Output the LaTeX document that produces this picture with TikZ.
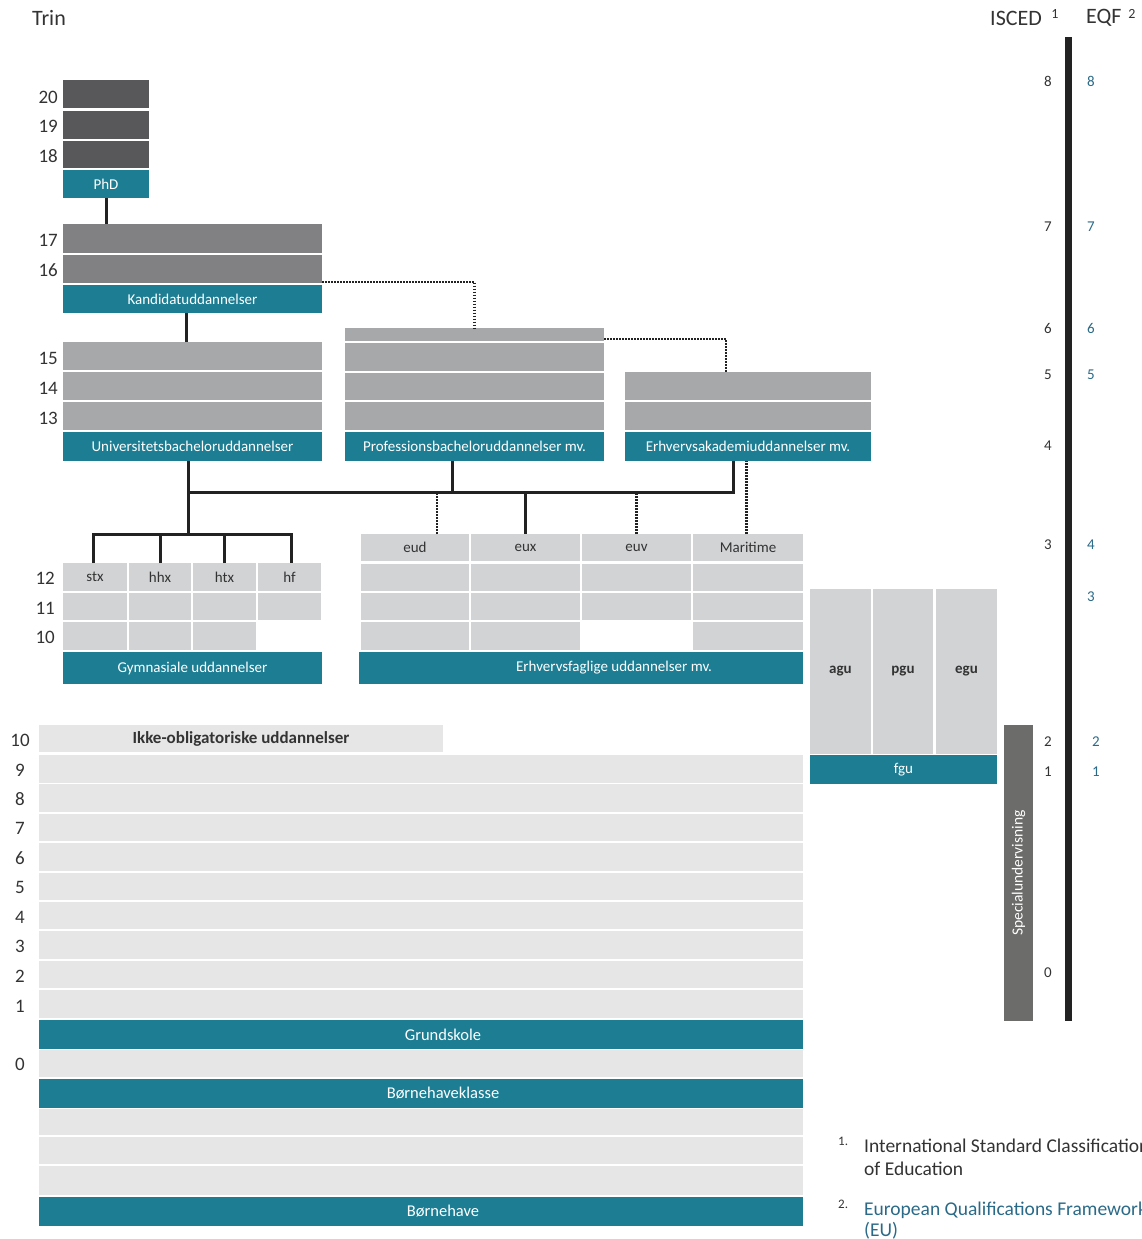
\documentclass[tikz,border=0pt]{standalone}
\usepackage{fontspec}
\setmainfont{Carlito}
\usetikzlibrary{calc}
\definecolor{tealc}{HTML}{1C7D93}
\definecolor{phdg}{HTML}{58585A}
\definecolor{kandg}{HTML}{818183}
\definecolor{bachg}{HTML}{A7A8AA}
\definecolor{cellg}{HTML}{D2D3D5}
\definecolor{baseg}{HTML}{E6E6E7}
\definecolor{speg}{HTML}{6C6C6A}
\definecolor{eqfc}{HTML}{2A6A88}
\definecolor{linec}{HTML}{222222}
\definecolor{txtc}{HTML}{333333}
\newcommand\fsz[1]{\fontsize{#1}{#1}\selectfont}
\newcommand\rbx[7]{%
  \pgfmathsetmacro\rsw{#4-#2}\pgfmathsetmacro\rsh{#5-#3}%
  \node[#6,minimum width=\rsw pt,minimum height=\rsh pt,anchor=north west] (#1) at (#2,#3) {#7};}
\tikzset{
  blk/.style={draw=none,inner sep=0pt,outer sep=0pt},
  tealbox/.style={blk,fill=tealc,text=white,font=\fsz{15}},
  tealbig/.style={blk,fill=tealc,text=white,font=\fsz{16.5}},
  phdbox/.style={blk,fill=phdg},
  kandbox/.style={blk,fill=kandg},
  bachbox/.style={blk,fill=bachg},
  cellbox/.style={blk,fill=cellg,text=txtc,font=\fsz{15}},
  basebox/.style={blk,fill=baseg},
  conn/.style={draw=linec,line width=3pt},
  dotc/.style={draw=linec,line width=2.4pt,dash pattern=on 1.6pt off 1.4pt},
  lnum/.style={text=txtc,font=\fsz{19},inner sep=0pt},
  inum/.style={text=txtc,font=\fsz{15},inner sep=0pt},
  enum/.style={text=eqfc,font=\fsz{15},inner sep=0pt},
  hdr/.style={text=txtc,font=\fsz{22},inner sep=0pt},
}
\begin{document}
\begin{tikzpicture}[x=1pt,y=-1pt]
\useasboundingbox (0,0) rectangle (1141,1239);
% headers
\node[hdr,anchor=west] (trin) at (32,18) {Trin};
\node[hdr,anchor=west] (isced) at (990,18) {ISCED};
\node[inum,font=\fsz{14}] (isup) at (1055,14) {1};
\node[hdr,anchor=west] (eqf) at (1086,18) {EQF};
\node[inum,font=\fsz{14}] (esup) at (1132,14) {2};
% PhD
\rbx{p20}{63}{80}{149}{108}{phdbox}{}
\rbx{p19}{63}{111}{149}{139}{phdbox}{}
\rbx{p18}{63}{141}{149}{168}{phdbox}{}
\rbx{phd}{63}{170}{149}{198}{tealbox}{PhD}
% Kandidat
\rbx{k17}{63}{224}{322}{253}{kandbox}{}
\rbx{k16}{63}{255}{322}{283}{kandbox}{}
\rbx{kand}{63}{285}{322}{313}{tealbox}{Kandidatuddannelser}
% Universitet
\rbx{u15}{63}{342}{322}{370}{bachbox}{}
\rbx{u14}{63}{372}{322}{400}{bachbox}{}
\rbx{u13}{63}{402}{322}{430}{bachbox}{}
\rbx{univ}{63}{432}{322}{461}{tealbox}{Universitetsbacheloruddannelser}
% Profession
\rbx{pr0}{345}{328}{604}{341}{bachbox}{}
\rbx{pr1}{345}{343}{604}{371}{bachbox}{}
\rbx{pr2}{345}{373}{604}{400}{bachbox}{}
\rbx{pr3}{345}{402}{604}{430}{bachbox}{}
\rbx{prof}{345}{432}{604}{461}{tealbox}{Professionsbacheloruddannelser mv.}
% Erhvervsakademi
\rbx{ea1}{625}{372}{871}{400}{bachbox}{}
\rbx{ea2}{625}{402}{871}{430}{bachbox}{}
\rbx{erhv}{625}{432}{871}{461}{tealbox}{Erhvervsakademiuddannelser mv.}
% Gymnasiale
\rbx{stx}{63}{563}{127}{591}{cellbox}{stx}
\rbx{hhx}{129}{563}{191}{591}{cellbox}{hhx}
\rbx{htx}{193}{563}{256}{591}{cellbox}{htx}
\rbx{hf}{258}{563}{321}{591}{cellbox}{hf}
\rbx{stxb}{63}{593}{127}{620}{cellbox}{}
\rbx{hhxb}{129}{593}{191}{620}{cellbox}{}
\rbx{htxb}{193}{593}{256}{620}{cellbox}{}
\rbx{hfb}{258}{593}{321}{620}{cellbox}{}
\rbx{stxc}{63}{622}{127}{650}{cellbox}{}
\rbx{hhxc}{129}{622}{191}{650}{cellbox}{}
\rbx{htxc}{193}{622}{256}{650}{cellbox}{}
\rbx{gym}{63}{652}{322}{684}{tealbox}{Gymnasiale uddannelser}
% Erhvervsfaglige
\rbx{eud}{361}{534}{469}{561}{cellbox}{eud}
\rbx{eux}{471}{534}{580}{561}{cellbox}{eux}
\rbx{euv}{582}{534}{691}{561}{cellbox}{euv}
\rbx{mar}{693}{534}{803}{561}{cellbox}{Maritime}
\rbx{euda}{361}{564}{469}{591}{cellbox}{}
\rbx{euxa}{471}{564}{580}{591}{cellbox}{}
\rbx{euva}{582}{564}{691}{591}{cellbox}{}
\rbx{mara}{693}{564}{803}{591}{cellbox}{}
\rbx{eudb}{361}{593}{469}{620}{cellbox}{}
\rbx{euxb}{471}{593}{580}{620}{cellbox}{}
\rbx{euvb}{582}{593}{691}{620}{cellbox}{}
\rbx{marb}{693}{593}{803}{620}{cellbox}{}
\rbx{eudc}{361}{622}{469}{650}{cellbox}{}
\rbx{euxc}{471}{622}{580}{650}{cellbox}{}
\rbx{marc}{693}{622}{803}{650}{cellbox}{}
\rbx{erhf}{359}{652}{803}{684}{tealbox}{\hspace*{66pt}Erhvervsfaglige uddannelser mv.}
% fgu
\rbx{agu}{810}{589}{871}{754}{cellbox,font=\fsz{15}\bfseries}{agu}
\rbx{pgu}{873}{589}{933}{754}{cellbox,font=\fsz{15}\bfseries}{pgu}
\rbx{egu}{936}{589}{997}{754}{cellbox,font=\fsz{15}\bfseries}{egu}
\rbx{fgu}{810}{755}{997}{784}{tealbox}{fgu}
% Specialundervisning and scale bar
\rbx{spec}{1004}{725}{1033}{1021}{blk,fill=speg}{}
\node[text=white,font=\fsz{15.5},rotate=90,inner sep=0pt] (spect) at (spec.center) {Specialundervisning};
\rbx{bar}{1065}{37}{1072}{1021}{blk,fill=linec}{}
% basic education
\rbx{ikke}{39}{725}{443}{752}{basebox,text=txtc,font=\fsz{17}\bfseries}{Ikke-obligatoriske uddannelser}
\foreach \i in {1,...,9}{
  \pgfmathsetmacro\ys{755+29.375*(9-\i)}
  \pgfmathsetmacro\ye{\ys+27.5}
  \rbx{g\i}{39}{\ys}{803}{\ye}{basebox}{}
}
\rbx{grund}{39}{1020}{803}{1049}{tealbig}{\hspace*{44pt}Grundskole}
\rbx{g0}{39}{1050}{803}{1077}{basebox}{}
\rbx{bhk}{39}{1079}{803}{1108}{tealbig}{\hspace*{44pt}Børnehaveklasse}
\rbx{bha}{39}{1109}{803}{1135}{basebox}{}
\rbx{bhb}{39}{1137}{803}{1164}{basebox}{}
\rbx{bhc}{39}{1166}{803}{1195}{basebox}{}
\rbx{bh}{39}{1197}{803}{1226}{tealbig}{\hspace*{44pt}Børnehave}
% connectors
\coordinate (jU) at (188,492);
\coordinate (jE) at (733,492);
\coordinate (jG) at (188,534);
\draw[conn] (phd.south) -- (phd.south |- k17.north);
\draw[conn] ([xshift=-6.5]kand.south) -- ([xshift=-6.5]kand.south |- u15.north);
\draw[conn] (univ.south -| jU) -- (jU) -- (jE) -- (erhv.south -| jE);
\draw[conn] ([xshift=-22.5]prof.south) -- ([xshift=-22.5]prof.south |- jU);
\draw[conn] (jU) -- (jG);
\draw[conn] ([xshift=-2]stx.north) -- ([xshift=-2]stx.north |- jG) -- ([xshift=1.5]hf.north |- jG) -- ([xshift=1.5]hf.north);
\draw[conn] (hhx.north) -- (hhx.north |- jG);
\draw[conn] (htx.north) -- (htx.north |- jG);
\draw[conn] (eux.north |- jU) -- (eux.north);
\draw[dotc] ([xshift=22]eud.north) -- ([xshift=22]eud.north |- jU);
\draw[dotc] (euv.north) -- (euv.north |- jU);
\draw[dotc] ([xshift=-1.5]mar.north) -- ([xshift=-1.5]mar.north |- erhv.south);
\draw[dotc] ([yshift=1]k16.south east) -| (pr0.north);
\draw[dotc] ([yshift=2]pr0.south east) -| ([xshift=-22]ea1.north);
% left trin numbers
\node[lnum,anchor=east] (n20) at (58,97) {20};
\node[lnum,anchor=east] (n19) at (58,126) {19};
\node[lnum,anchor=east] (n18) at (58,156) {18};
\node[lnum,anchor=east] (n17) at (58,240) {17};
\node[lnum,anchor=east] (n16) at (58,270) {16};
\node[lnum,anchor=east] (n15) at (58,358) {15};
\node[lnum,anchor=east] (n14) at (58,388) {14};
\node[lnum,anchor=east] (n13) at (58,418) {13};
\node[lnum,anchor=east] (n12) at (55,578) {12};
\node[lnum,anchor=east] (n11) at (55,608) {11};
\node[lnum,anchor=east] (n10) at (55,637) {10};
\node[lnum] (b10) at (20,740) {10};
\node[lnum] (b9) at (20,770) {9};
\node[lnum] (b8) at (20,799) {8};
\node[lnum] (b7) at (20,828) {7};
\node[lnum] (b6) at (20,858) {6};
\node[lnum] (b5) at (20,887) {5};
\node[lnum] (b4) at (20,917) {4};
\node[lnum] (b3) at (20,946) {3};
\node[lnum] (b2) at (20,976) {2};
\node[lnum] (b1) at (20,1006) {1};
\node[lnum] (b0) at (20,1064) {0};
% ISCED numbers
\node[inum] (i8) at (1048,81) {8};
\node[inum] (i7) at (1048,227) {7};
\node[inum] (i6) at (1048,328) {6};
\node[inum] (i5) at (1048,375) {5};
\node[inum] (i4) at (1048,446) {4};
\node[inum] (i3) at (1048,545) {3};
\node[inum] (i2) at (1048,742) {2};
\node[inum] (i1) at (1048,772) {1};
\node[inum] (i0) at (1048,973) {0};
% EQF numbers
\node[enum] (e8) at (1091,81) {8};
\node[enum] (e7) at (1091,227) {7};
\node[enum] (e6) at (1091,328) {6};
\node[enum] (e5) at (1091,375) {5};
\node[enum] (e4) at (1091,545) {4};
\node[enum] (e3) at (1091,597) {3};
\node[enum] (e2) at (1096,742) {2};
\node[enum] (e1) at (1096,772) {1};
% footnotes
\node[inum,font=\fsz{13},anchor=base west] (f1n) at (838,1145) {1.};
\node[inum,font=\fsz{19.5},anchor=base west] (f1a) at (864,1152) {International Standard Classification};
\node[inum,font=\fsz{19.5},anchor=base west] (f1b) at (864,1175) {of Education};
\node[inum,font=\fsz{13},anchor=base west] (f2n) at (838,1208) {2.};
\node[enum,font=\fsz{19.5},anchor=base west] (f2a) at (864,1215) {European Qualifications Framework};
\node[enum,font=\fsz{19.5},anchor=base west] (f2b) at (864,1236) {(EU)};
\end{tikzpicture}
\end{document}
